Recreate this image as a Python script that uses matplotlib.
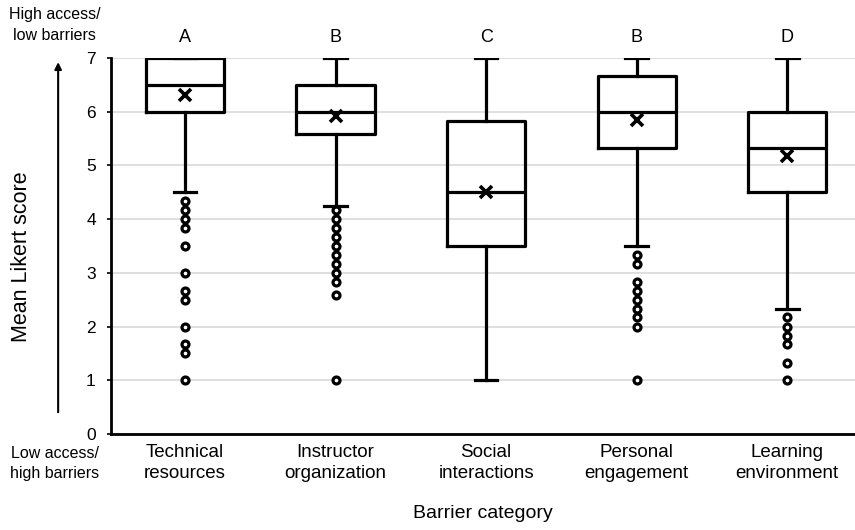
import numpy as np
import matplotlib.pyplot as plt

plt.rcParams['font.family'] = ['Liberation Sans', 'DejaVu Sans']

# data
categories = ["Technical\nresources", "Instructor\norganization", "Social\ninteractions",
              "Personal\nengagement", "Learning\nenvironment"]
letters = ["A", "B", "C", "B", "D"]
q1 = [6.0, 5.58, 3.5, 5.33, 4.5]
medians = [6.5, 6.0, 4.5, 6.0, 5.33]
q3 = [7.0, 6.5, 5.83, 6.67, 6.0]
whisk_lo = [4.5, 4.25, 1.0, 3.5, 2.33]
whisk_hi = [7.0, 7.0, 7.0, 7.0, 7.0]
means = [6.32, 5.92, 4.5, 5.84, 5.17]
outliers = [
    [4.33, 4.17, 4.0, 3.83, 3.5, 3.0, 2.67, 2.5, 2.0, 1.67, 1.5, 1.0],
    [4.17, 4.0, 3.83, 3.67, 3.5, 3.33, 3.17, 3.0, 2.83, 2.58, 1.0],
    [],
    [3.33, 3.17, 2.83, 2.67, 2.5, 2.33, 2.17, 2.0, 1.0],
    [2.17, 2.0, 1.83, 1.67, 1.33, 1.0],
]

stats = []
for i in range(len(categories)):
    stats.append({"q1": q1[i], "med": medians[i], "q3": q3[i],
                  "whislo": whisk_lo[i], "whishi": whisk_hi[i],
                  "mean": means[i], "fliers": outliers[i]})

fig = plt.figure(figsize=(8.55, 5.30), dpi=100)
ax = fig.add_axes([0.13, 0.181, 0.87, 0.7096])

pos = np.arange(1, len(categories) + 1)
lw = 2.3
ax.bxp(stats, positions=pos, widths=0.52, showmeans=True, showfliers=True,
       patch_artist=False, capwidths=0.15,
       boxprops=dict(color="black", linewidth=lw),
       medianprops=dict(color="black", linewidth=lw),
       whiskerprops=dict(color="black", linewidth=lw),
       capprops=dict(color="black", linewidth=lw),
       meanprops=dict(marker="x", markeredgecolor="black", markersize=8, markeredgewidth=2.6),
       flierprops=dict(marker="o", markerfacecolor="white", markeredgecolor="black",
                       markersize=5, markeredgewidth=2.3),
       zorder=3)

for p, l in zip(pos, letters):
    ax.text(p, 7.39, l, ha="center", va="center", fontsize=13, clip_on=False)

ax.set_xlim(0.51, 5.45)
ax.set_ylim(0, 7)
ax.set_yticks(range(0, 8))
ax.yaxis.grid(True, color="#d9d9d9", linewidth=1.2, zorder=0)
ax.set_axisbelow(True)
ax.set_xticks(pos)
ax.set_xticklabels(categories, fontsize=13.5, linespacing=1.35)
ax.tick_params(axis="x", length=0, pad=7)
ax.tick_params(axis="y", length=3, width=1.2, labelsize=12.5, pad=8)
for s in ["top", "right"]:
    ax.spines[s].set_visible(False)
for s in ["left", "bottom"]:
    ax.spines[s].set_linewidth(2)

ax.set_xlabel("Barrier category", fontsize=14, labelpad=16)
fig.text(0.025, 0.515, "Mean Likert score", rotation=90, ha="center", va="center", fontsize=15.5)

fig.text(0.064, 0.953, "High access/\nlow barriers", ha="center", va="center", fontsize=11.5, linespacing=1.5)
fig.text(0.064, 0.126, "Low access/\nhigh barriers", ha="center", va="center", fontsize=11.5, linespacing=1.45)
ax.annotate("", xy=(0.068, 0.888), xytext=(0.068, 0.217), xycoords="figure fraction",
            textcoords="figure fraction",
            arrowprops=dict(arrowstyle="-|>", color="black", lw=1.5, mutation_scale=10))

fig.savefig("out.png", dpi=100)
